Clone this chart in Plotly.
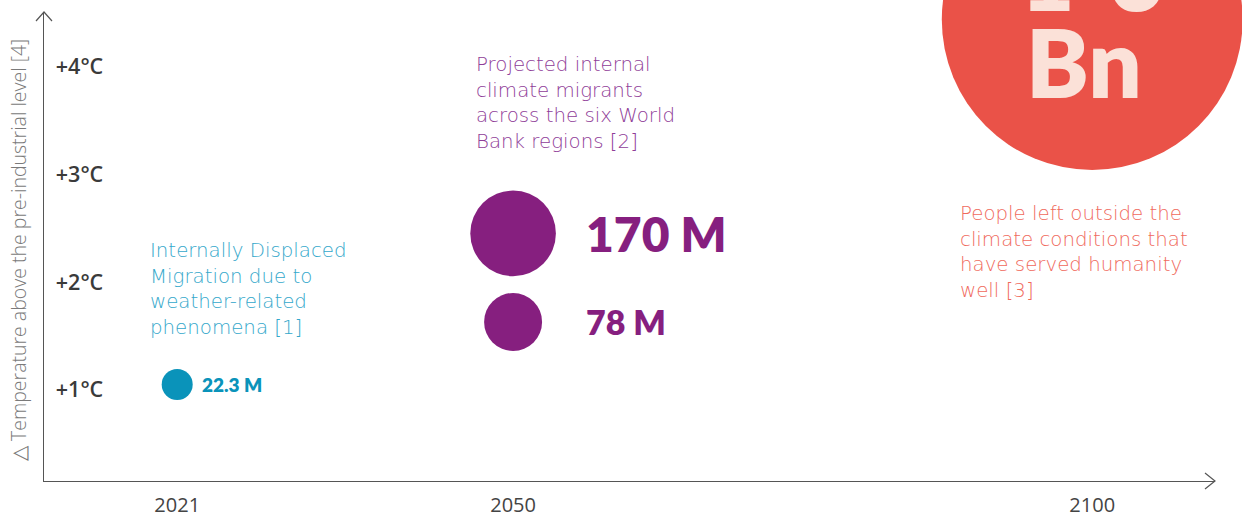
import plotly.graph_objects as go

# ---- data ----
years = [2021, 2050, 2050, 2100]
temps = [1.05, 2.45, 1.63, 4.43]
values_m = [22.3, 170, 78, 2100]
value_labels = ["22.3 M", "170 M", "78 M", "Bn"]
big_top_label = "1-3"
point_colors = ["#0a93ba", "#861f7f", "#861f7f", "#ea5248"]

x_ticks = [2021, 2050, 2100]
x_ticktext = ["2021", "2050", "2100"]
y_ticks = [1, 2, 3, 4]
y_ticktext = ["+1°C", "+2°C", "+3°C", "+4°C"]
y_title = "△ Temperature above the pre-industrial level [4]"

descriptions = [
    "Internally Displaced<br>Migration due to<br>weather-related<br>phenomena [1]",
    "Projected internal<br>climate migrants<br>across the six World<br>Bank regions [2]",
    "People left outside the<br>climate conditions that<br>have served humanity<br>well [3]",
]
desc_colors = ["#35a8cb", "#8f3d98", "#f06a5d"]

FONT = "Lato"
DESC_FONT = "DejaVu Sans"
W, H = 1242, 517
ML, MR, MT, MB = 44, 27, 12, 36
PW, PH = W - ML - MR, H - MT - MB


def px(xpix):
    return (xpix - ML) / PW


def py(ypix):
    return (H - MB - ypix) / PH


fig = go.Figure()
fig.add_trace(go.Scatter(
    x=years, y=temps, mode="markers",
    marker=dict(size=values_m, sizemode="area", sizeref=0.0464,
                color=point_colors, line=dict(width=0), opacity=1),
    cliponaxis=False, hoverinfo="skip", showlegend=False,
))

annotations = []
# value labels
lab_style = [
    dict(size=19, shift=23, color=point_colors[0]),
    dict(size=48, shift=71, color=point_colors[1]),
    dict(size=34, shift=71, color=point_colors[2]),
]
for i in range(3):
    s = lab_style[i]
    annotations.append(dict(
        x=years[i], y=temps[i], xref="x", yref="y", text=value_labels[i],
        showarrow=False, xanchor="left", yanchor="middle", xshift=s["shift"],
        font=dict(family=FONT, size=s["size"], color=s["color"], weight=800),
    ))
# big red circle labels
annotations.append(dict(
    x=years[3], y=temps[3], xref="x", yref="y", text=value_labels[3],
    showarrow=False, xanchor="center", yanchor="middle", yshift=-42, xshift=-8,
    font=dict(family=FONT, size=94, color="#fbe1d8", weight=800),
))
annotations.append(dict(
    x=years[3], y=temps[3], xref="x", yref="y", text=big_top_label,
    showarrow=False, xanchor="center", yanchor="middle", yshift=45,
    font=dict(family=FONT, size=94, color="#fbe1d8", weight=800),
))

# descriptions
desc_pos = [(148, 288.5), (474, 103.5), (958, 252)]
for t, c, (xp, yp) in zip(descriptions, desc_colors, desc_pos):
    annotations.append(dict(
        x=px(xp), y=py(yp), xref="paper", yref="paper", text=t, align="left",
        showarrow=False, xanchor="left", yanchor="middle",
        font=dict(family=DESC_FONT, size=19.8, color=c, weight=200),
    ))

# y axis title
annotations.append(dict(
    x=0, y=py(250), xref="paper", yref="paper", text=y_title, textangle=-90,
    showarrow=False, xanchor="center", yanchor="middle", xshift=-26,
    font=dict(family="Open Sans", size=19.5, color="#7a7a7a", weight=300),
))

axis_col = "#555555"
shapes = [
    # y-axis arrow head
    dict(type="path", xref="paper", yref="paper",
         path=f"M {px(36)} {py(21)} L {px(44)} {py(12)} L {px(52)} {py(21)}",
         line=dict(color=axis_col, width=1.2)),
    # x-axis arrow head
    dict(type="path", xref="paper", yref="paper",
         path=f"M {px(1205)} {py(473)} L {px(1215)} {py(481)} L {px(1205)} {py(489)}",
         line=dict(color=axis_col, width=1.2)),
]

fig.update_layout(
    width=W, height=H,
    margin=dict(l=ML, r=MR, t=MT, b=MB, pad=0, autoexpand=False),
    paper_bgcolor="white", plot_bgcolor="white",
    annotations=annotations, shapes=shapes,
    xaxis=dict(range=[2009.5, 2110.6], tickvals=x_ticks, ticktext=x_ticktext,
               showgrid=False, zeroline=False, showline=True,
               linecolor=axis_col, linewidth=1.2, ticks="",
               ticklabelstandoff=6, automargin=False,
               tickfont=dict(family="Open Sans", size=20, color="#444444", weight=400)),
    yaxis=dict(range=[0.157, 4.5], tickvals=y_ticks, ticktext=y_ticktext,
               showgrid=False, zeroline=False, showline=True,
               linecolor=axis_col, linewidth=1.2, ticks="",
               ticklabelposition="inside", ticklabelstandoff=13, automargin=False,
               tickfont=dict(family="Open Sans", size=21.5, color="#3a3a3a", weight=600)),
)

fig.write_html("out.html", config={"displayModeBar": False},
               post_script="document.body.style.margin='0';")
